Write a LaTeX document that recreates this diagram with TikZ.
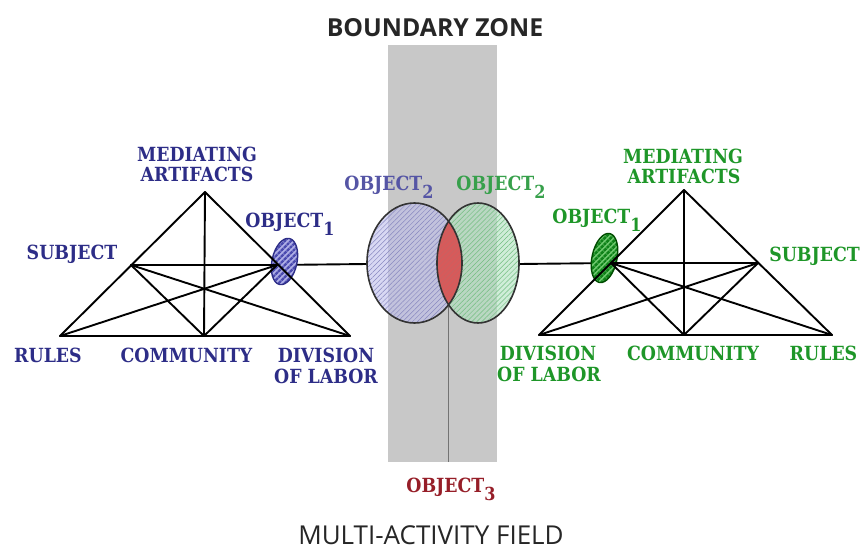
\documentclass[tikz,border=0pt]{standalone}
\usepackage{fontspec}
\setmainfont{DejaVu Serif}
\newfontfamily\lblfont{DejaVu Serif}[FakeStretch=0.89]
\newfontfamily\headfont{Open Sans}
\usetikzlibrary{patterns.meta}

\definecolor{blueT}{RGB}{45,45,135}
\definecolor{blueL}{RGB}{85,85,165}
\definecolor{greenT}{RGB}{30,150,40}
\definecolor{greenL}{RGB}{55,160,75}
\definecolor{redT}{RGB}{150,30,40}
\definecolor{bandgray}{RGB}{200,200,200}
\definecolor{lavender}{RGB}{190,190,235}
\definecolor{mint}{RGB}{175,225,190}
\definecolor{lensred}{RGB}{215,90,90}
\definecolor{objblue}{RGB}{75,75,175}
\definecolor{objblueL}{RGB}{175,175,230}
\definecolor{objgreen}{RGB}{15,130,25}
\definecolor{objgreenL}{RGB}{110,200,110}

\newcommand{\lowidx}[1]{\raisebox{-0.45em}{\fontsize{18}{18}\selectfont #1}}

\tikzset{
  edge/.style={line width=1.9pt, black, line cap=round},
  lbl/.style={inner sep=0pt, anchor=base, font=\lblfont\bfseries\fontsize{19.5}{20}\selectfont},
  lblL/.style={lbl, text=blueT},
  lblR/.style={lbl, text=greenT},
  head/.style={inner sep=0pt, anchor=base, text=black!85},
  ring/.style={line width=1.6pt, draw=black!80},
}

\begin{document}
\begin{tikzpicture}[x=1pt,y=-1pt]
\useasboundingbox (0,0) rectangle (865,551);

% boundary zone band
\fill[bandgray] (388,45) rectangle (497,462);

% key points of the left activity system
\coordinate (LA) at (205,192);
\coordinate (LS) at (131,265);
\coordinate (LO) at (277,265);
\coordinate (LR) at (60,336);
\coordinate (LC) at (204,336);
\coordinate (LD) at (350,336);

% key points of the right activity system
\coordinate (RA) at (684,190);
\coordinate (RO) at (611,263);
\coordinate (RS) at (758,263);
\coordinate (RD) at (539,335);
\coordinate (RC) at (684,335);
\coordinate (RR) at (832,335);

% shared objects
\coordinate (O2L) at (414.5,263);
\coordinate (O2R) at (478,263);
\coordinate (O2Lw) at (367,264);
\coordinate (O2Re) at (519,264);
\coordinate (O3top) at (448.5,305);
\coordinate (O3bot) at (448.5,462);

% object 3 line and links between the systems
\draw[line width=1.3pt, black!55] (O3top) -- (O3bot);
\draw[edge] (LO) -- (O2Lw);
\draw[edge] (O2Re) -- (RO);

% object 2 ellipses
\fill[lavender, fill opacity=0.6] (O2L) ellipse [x radius=47.5, y radius=60];
\fill[mint, fill opacity=0.6] (O2R) ellipse [x radius=41, y radius=60];
\fill[pattern={Lines[angle=45,distance=3.5pt,line width=0.5pt]}, pattern color=blueL!70]
  (O2L) ellipse [x radius=47.5, y radius=60];
\fill[pattern={Lines[angle=45,distance=3.5pt,line width=0.5pt]}, pattern color=greenL!70]
  (O2R) ellipse [x radius=41, y radius=60];
% object 3: the overlap
\begin{scope}
  \clip (O2L) ellipse [x radius=47.5, y radius=60];
  \fill[lensred] (O2R) ellipse [x radius=41, y radius=60];
  \fill[pattern={Lines[angle=45,distance=3.5pt,line width=0.4pt]}, pattern color=red!60!black!60]
    (O2R) ellipse [x radius=41, y radius=60];
\end{scope}
\draw[ring] (O2L) ellipse [x radius=47.5, y radius=60];
\draw[ring] (O2R) ellipse [x radius=41, y radius=60];

% object 1 ellipses
\begin{scope}[rotate around={-12:(284.5,261.5)}]
  \fill[objblueL] (284.5,261.5) ellipse [x radius=12.5, y radius=23.5];
  \fill[pattern={Lines[angle=45,distance=4pt,line width=2.6pt]}, pattern color=objblue]
    (284.5,261.5) ellipse [x radius=12.5, y radius=23.5];
  \draw[line width=1.4pt, blueT] (284.5,261.5) ellipse [x radius=12.5, y radius=23.5];
\end{scope}
\begin{scope}[rotate around={-12:(604.5,258)}]
  \fill[objgreenL] (604.5,258) ellipse [x radius=12.5, y radius=25];
  \fill[pattern={Lines[angle=45,distance=4pt,line width=2.8pt]}, pattern color=objgreen]
    (604.5,258) ellipse [x radius=12.5, y radius=25];
  \draw[line width=1.4pt, black!70!green] (604.5,258) ellipse [x radius=12.5, y radius=25];
\end{scope}

% left triangle
\draw[edge] (LA) -- (LR);
\draw[edge] (LA) -- (LD);
\draw[edge] (LA) -- (LC);
\draw[edge] (LR) -- (LD);
\draw[edge] (LS) -- (LO);
\draw[edge] (LS) -- (LC);
\draw[edge] (LS) -- (LD);
\draw[edge] (LO) -- (LR);
\draw[edge] (LO) -- (LC);

% right triangle
\draw[edge] (RA) -- (RD);
\draw[edge] (RA) -- (RR);
\draw[edge] (RA) -- (RC);
\draw[edge] (RD) -- (RR);
\draw[edge] (RO) -- (RS);
\draw[edge] (RO) -- (RC);
\draw[edge] (RO) -- (RR);
\draw[edge] (RS) -- (RC);
\draw[edge] (RS) -- (RD);

% left labels
\node[lblL] (lMed) at (197,161) {MEDIATING};
\node[lblL] (lArt) at (197,181) {ARTIFACTS};
\node[lblL] (lObj) at (290,227) {OBJECT\lowidx{1}};
\node[lblL] (lSub) at (72,259) {SUBJECT};
\node[lblL] (lRul) at (48,362) {RULES};
\node[lblL] (lCom) at (186.5,362) {COMMUNITY};
\node[lblL] (lDiv) at (326,362) {DIVISION};
\node[lblL] (lLab) at (326,383) {OF LABOR};

% right labels
\node[lblR] (rMed) at (683,163) {MEDIATING};
\node[lblR] (rArt) at (684,183) {ARTIFACTS};
\node[lblR] (rObj) at (597,223) {OBJECT\lowidx{1}};
\node[lblR] (rSub) at (814.5,261) {SUBJECT};
\node[lblR] (rDiv) at (548,360) {DIVISION};
\node[lblR] (rLab) at (549,381) {OF LABOR};
\node[lblR] (rCom) at (693,360) {COMMUNITY};
\node[lblR] (rRul) at (823.5,360) {RULES};

% shared object labels
\node[lbl, text=blueL] (o2a) at (389,190) {OBJECT\lowidx{2}};
\node[lbl, text=greenL] (o2b) at (501,190) {OBJECT\lowidx{2}};
\node[lbl, text=redT] (o3) at (451,492) {OBJECT\lowidx{3}};

% headings
\node[head, font=\headfont\bfseries\fontsize{24.8}{26}\selectfont] (zone) at (435,37) {BOUNDARY ZONE};
\node[head, font=\headfont\fontsize{26}{28}\selectfont] (field) at (431,544) {MULTI-ACTIVITY FIELD};
\end{tikzpicture}
\end{document}
